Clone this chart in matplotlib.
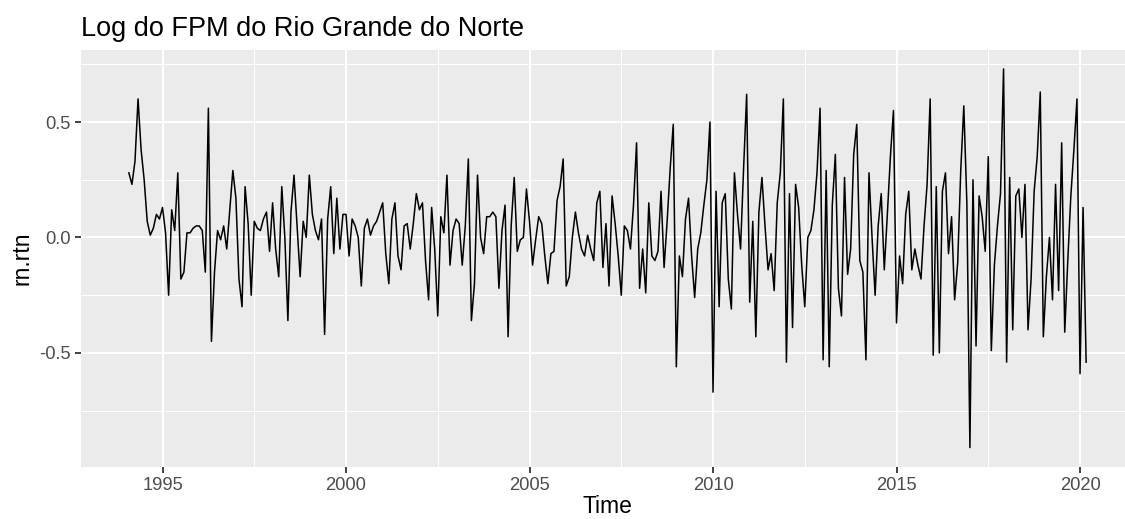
import matplotlib.pyplot as plt
import numpy as np
from matplotlib.ticker import FixedLocator, FuncFormatter

# Log-retornos mensais do FPM (Rio Grande do Norte), fev/1994 a mar/2020
rtn_1994_1999 = [
    0.28, 0.23, 0.33, 0.60, 0.38, 0.25, 0.07, 0.01, 0.04, 0.10, 0.08,
    0.13, 0.02, -0.25, 0.12, 0.03, 0.28, -0.18, -0.15, 0.02, 0.02, 0.04, 0.05,
    0.05, 0.03, -0.15, 0.56, -0.45, -0.15, 0.03, -0.01, 0.05, -0.05, 0.12, 0.29,
    0.17, -0.18, -0.30, 0.22, 0.06, -0.25, 0.07, 0.04, 0.03, 0.08, 0.11, -0.06,
    0.15, -0.05, -0.17, 0.22, 0.00, -0.36, 0.11, 0.27, 0.05, -0.17, 0.07, 0.00,
    0.27, 0.10, 0.03, -0.01, 0.08, -0.42, 0.08, 0.22, -0.07, 0.17, -0.05, 0.10,
]
rtn_2000_2004 = [
    0.10, -0.08, 0.08, 0.05, 0.00, -0.21, 0.04, 0.08, 0.01, 0.05, 0.07, 0.11,
    0.15, -0.07, -0.20, 0.08, 0.15, -0.08, -0.14, 0.05, 0.06, -0.05, 0.06, 0.19,
    0.12, 0.15, -0.10, -0.27, 0.13, -0.05, -0.34, 0.09, 0.02, 0.27, -0.12, 0.03,
    0.08, 0.06, -0.12, 0.05, 0.34, -0.36, -0.20, 0.27, 0.00, -0.07, 0.09, 0.09,
    0.11, 0.09, -0.22, 0.03, 0.14, -0.43, 0.05, 0.26, -0.06, -0.01, 0.00, 0.21,
]
rtn_2005_2009 = [
    0.07, -0.12, -0.01, 0.09, 0.06, -0.08, -0.20, -0.07, -0.06, 0.16, 0.22, 0.34,
    -0.21, -0.17, 0.00, 0.11, 0.02, -0.05, -0.08, 0.01, -0.05, -0.10, 0.15, 0.20,
    -0.13, 0.06, -0.21, 0.18, 0.06, -0.08, -0.25, 0.05, 0.03, -0.05, 0.14, 0.41,
    -0.22, -0.05, -0.24, 0.15, -0.08, -0.10, -0.06, 0.20, -0.13, 0.07, 0.30, 0.49,
    -0.56, -0.08, -0.17, 0.08, 0.17, -0.08, -0.26, -0.05, 0.02, 0.14, 0.25, 0.50,
]
rtn_2010_2014 = [
    -0.67, 0.20, -0.30, 0.15, 0.19, -0.18, -0.31, 0.28, 0.10, -0.05, 0.30, 0.62,
    -0.28, 0.07, -0.43, 0.11, 0.26, 0.05, -0.14, -0.07, -0.23, 0.15, 0.28, 0.60,
    -0.54, 0.19, -0.39, 0.23, 0.13, -0.12, -0.30, 0.00, 0.03, 0.12, 0.28, 0.56,
    -0.53, 0.29, -0.56, 0.14, 0.36, -0.22, -0.34, 0.26, -0.16, -0.05, 0.36, 0.49,
    -0.10, -0.15, -0.53, 0.28, 0.00, -0.25, 0.05, 0.19, -0.14, 0.10, 0.35, 0.55,
]
rtn_2015_2020 = [
    -0.37, -0.08, -0.20, 0.10, 0.20, -0.14, -0.05, -0.12, -0.18, 0.05, 0.23, 0.60,
    -0.51, 0.22, -0.50, 0.20, 0.28, -0.07, 0.09, -0.27, -0.11, 0.29, 0.57, 0.15,
    -0.91, 0.25, -0.47, 0.18, 0.09, -0.06, 0.35, -0.49, -0.12, 0.05, 0.19, 0.73,
    -0.54, 0.26, -0.40, 0.18, 0.21, 0.00, 0.23, -0.40, -0.18, 0.20, 0.35, 0.63,
    -0.43, -0.17, 0.00, -0.27, 0.23, -0.23, 0.41, -0.41, -0.10, 0.18, 0.38, 0.60,
    -0.59, 0.13, -0.54,
]

x_breaks = [1995, 2000, 2005, 2010, 2015, 2020]
y_breaks = [-0.5, 0.0, 0.5]

rn_rtn = np.array(rtn_1994_1999 + rtn_2000_2004 + rtn_2005_2009
                  + rtn_2010_2014 + rtn_2015_2020)
# serie mensal comecando em fevereiro de 1994
time = 1994 + (1 + np.arange(len(rn_rtn))) / 12

plt.rcParams['axes.unicode_minus'] = False
plt.rcParams['font.family'] = ['Liberation Sans', 'DejaVu Sans']

W, H = 1125, 519
fig = plt.figure(figsize=(W / 100, H / 100), dpi=100)
# o painel continua alem da borda direita da imagem
ax = fig.add_axes([81 / W, (H - 466.5) / H, (1134 - 81) / W, (466.5 - 50) / H])

ax.plot(time, rn_rtn, color='black', lw=1.1, zorder=3)

# limites com expansao de 5% como no ggplot
x_span = time[-1] - time[0]
y_span = rn_rtn.max() - rn_rtn.min()
ax.set_xlim(time[0] - 0.05 * x_span, time[-1] + 0.05 * x_span)
ax.set_ylim(rn_rtn.min() - 0.05 * y_span, rn_rtn.max() + 0.05 * y_span)

ax.set_facecolor('#EBEBEB')
for s in ax.spines.values():
    s.set_visible(False)

ax.xaxis.set_major_locator(FixedLocator(x_breaks))
ax.xaxis.set_minor_locator(FixedLocator([b + 2.5 for b in [1990] + x_breaks]))
ax.yaxis.set_major_locator(FixedLocator(y_breaks))
ax.yaxis.set_minor_locator(FixedLocator([-0.75, -0.25, 0.25, 0.75]))
ax.yaxis.set_major_formatter(FuncFormatter(lambda v, _: f'{v:.1f}'))

ax.grid(which='major', color='white', lw=1.5)
ax.grid(which='minor', color='white', lw=0.75)
ax.set_axisbelow(True)

ax.tick_params(which='major', length=4.1, width=1.3, color='#333333',
               labelcolor='#4D4D4D', labelsize=13.2, pad=3.3)
ax.tick_params(which='minor', length=0)

ax.set_xlabel('Time', fontsize=16.5, labelpad=1)
ax.set_ylabel('rn.rtn', fontsize=16.5, labelpad=4)

fig.text(81 / W, 1 - 36 / H, 'Log do FPM do Rio Grande do Norte',
         fontsize=19.5, va='baseline', ha='left')

fig.savefig('out.png', dpi=100)
